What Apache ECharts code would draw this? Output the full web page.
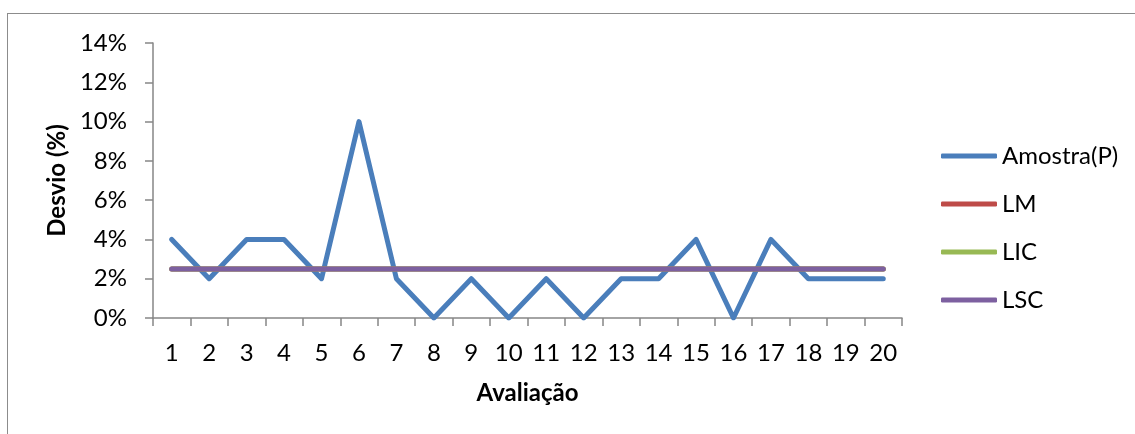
<!DOCTYPE html>
<html>
<head>
<meta charset="utf-8">
<script src="https://cdn.jsdelivr.net/npm/echarts@6/dist/echarts.min.js"></script>
<style>
  html, body { margin: 0; padding: 0; background: #fff; }
  #frame { position: absolute; left: 7px; top: 13px; width: 1140px; height: 440px; border: 1px solid #8c8c8c; box-sizing: border-box; }
  #chart { position: absolute; left: 0; top: 0; width: 1135px; height: 434px; }
</style>
</head>
<body>
<div id="frame"></div>
<div id="chart"></div>
<script>
// Avaliações 1..20 e desvio por amostra (fração)
const avaliacoes = ['1','2','3','4','5','6','7','8','9','10','11','12','13','14','15','16','17','18','19','20'];
const amostraP = [0.04,0.02,0.04,0.04,0.02,0.10,0.02,0.00,0.02,0.00,0.02,0.00,0.02,0.02,0.04,0.00,0.04,0.02,0.02,0.02];
// Limites de controle
const limiteLM  = 0.025;
const limiteLIC = 0.025;
const limiteLSC = 0.025;
const yTicks = { min: 0, max: 0.14, interval: 0.02 };

const constante = v => avaliacoes.map(() => v);
const fonte = 'Lato, "Open Sans", "DejaVu Sans", sans-serif';
const corEixo = '#868686';
const tamFonte = 24;

const chart = echarts.init(document.getElementById('chart'), null, { renderer: 'canvas' });

function serie(nome, dados, cor) {
  return {
    name: nome, type: 'line', data: dados,
    symbol: 'none', smooth: false, animation: false,
    lineStyle: { color: cor, width: 5, cap: 'round', join: 'round' },
    itemStyle: { color: cor }
  };
}

chart.setOption({
  animation: false,
  grid: { left: 153, right: 233, top: 43, bottom: 116 },
  legend: {
    orient: 'vertical', left: 936, top: 139,
    itemWidth: 56, itemHeight: 5, itemGap: 24,
    icon: 'roundRect',
    textStyle: { fontFamily: fonte, fontSize: tamFonte, color: '#000', lineHeight: 20 },
    data: ['Amostra(P)', 'LM', 'LIC', 'LSC']
  },
  xAxis: {
    type: 'category', data: avaliacoes, boundaryGap: true,
    name: 'Avaliação', nameLocation: 'middle', nameGap: 63,
    nameTextStyle: { fontFamily: fonte, fontSize: tamFonte, fontWeight: 'bold', color: '#000' },
    axisLine: { lineStyle: { color: corEixo, width: 1.5 } },
    axisTick: { show: true, length: 8, alignWithLabel: false, lineStyle: { color: corEixo, width: 1.5 } },
    axisLabel: { fontFamily: fonte, fontSize: tamFonte, color: '#000', margin: 23, interval: 0 },
    splitLine: { show: false }
  },
  yAxis: {
    type: 'value', min: yTicks.min, max: yTicks.max, interval: yTicks.interval,
    name: 'Desvio (%)', nameLocation: 'middle', nameGap: 83, nameRotate: 90,
    nameTextStyle: { fontFamily: fonte, fontSize: tamFonte, fontWeight: 'bold', color: '#000' },
    axisLine: { show: true, lineStyle: { color: corEixo, width: 1.5 } },
    axisTick: { show: true, length: 8, lineStyle: { color: corEixo, width: 1.5 } },
    axisLabel: { fontFamily: fonte, fontSize: tamFonte, color: '#000', margin: 26,
      formatter: v => Math.round(v * 100) + '%' },
    splitLine: { show: false }
  },
  series: [
    serie('Amostra(P)', amostraP, '#4A7EBB'),
    serie('LM', constante(limiteLM), '#BE4B48'),
    serie('LIC', constante(limiteLIC), '#98B954'),
    serie('LSC', constante(limiteLSC), '#7D60A0')
  ]
});
</script>
</body>
</html>
